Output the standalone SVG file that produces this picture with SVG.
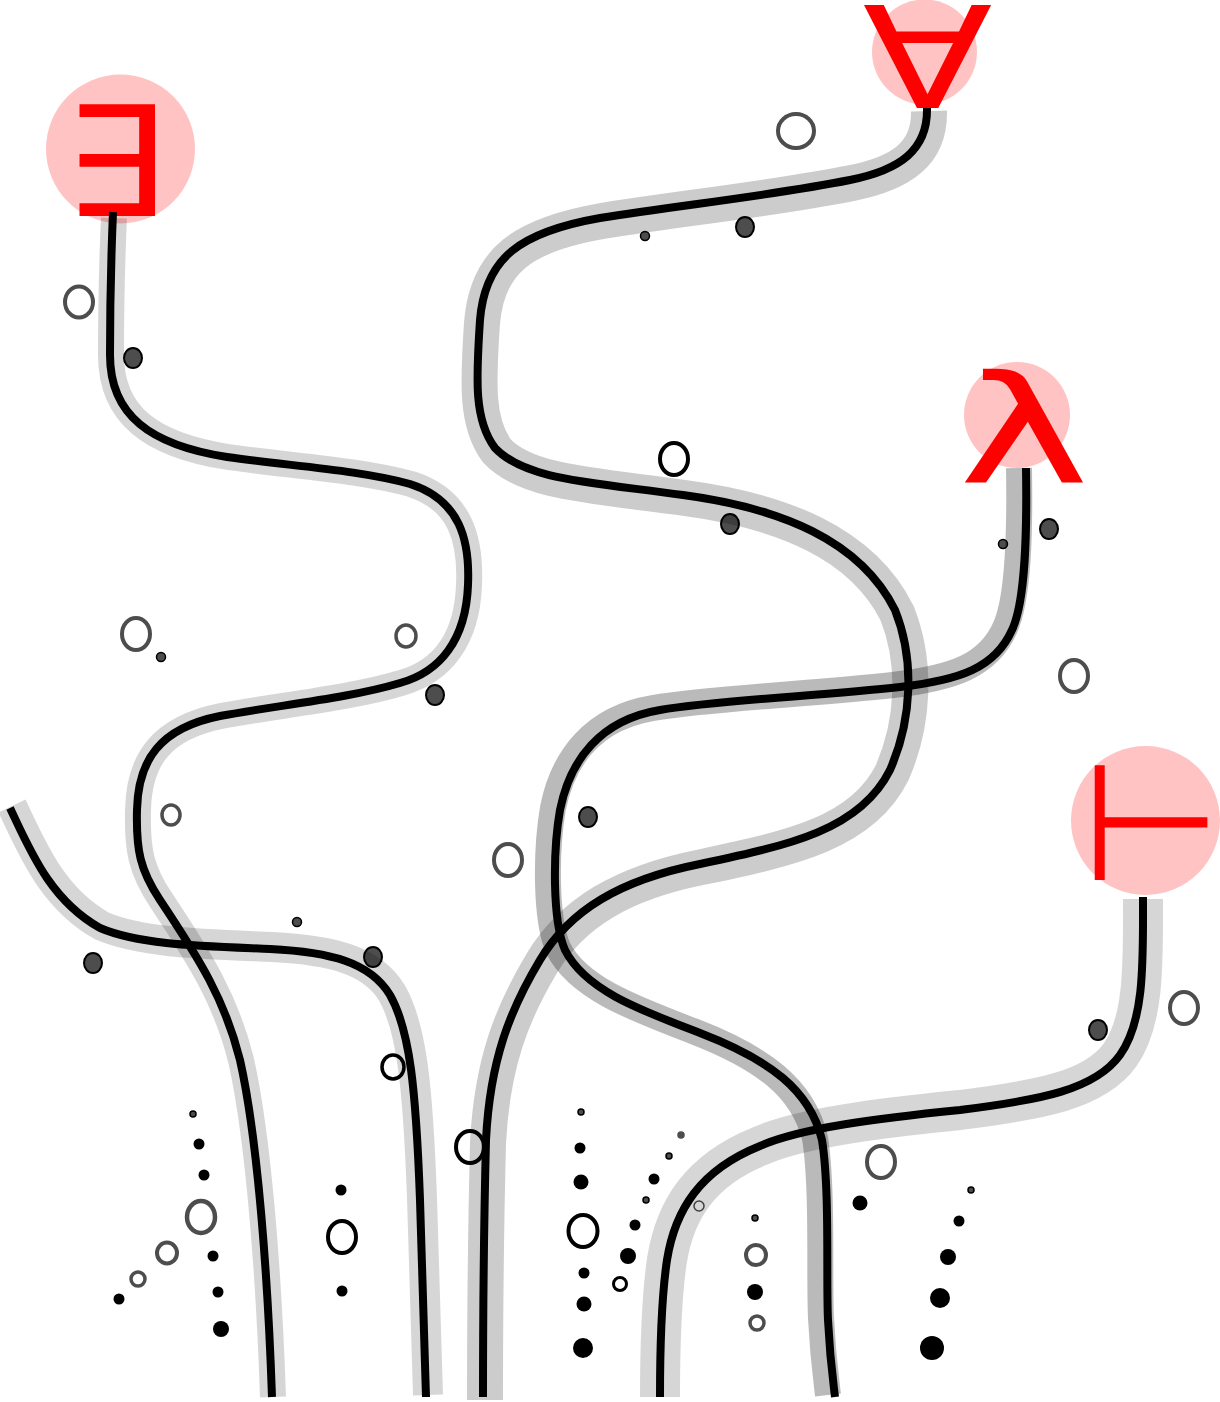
<svg xmlns="http://www.w3.org/2000/svg" width="1220" height="1402" viewBox="0 0 1220 1402">
<style>
.hg{fill:none;stroke:#4d4d4d;stroke-width:4}
.hb{fill:none;stroke:#000;stroke-width:4}
.fd{fill:#4d4d4d;stroke:#000;stroke-width:2}
.fb{fill:#000}
.tn{fill:#4d4d4d;stroke:#000;stroke-width:1.5}
.sh{fill:none;stroke:#000;stroke-linecap:butt}
.ln{fill:none;stroke:#000;stroke-width:8;stroke-linecap:butt}
.halo{fill:#ffc3c3}
.sym{fill:#ff0000;font-family:"DejaVu Sans",sans-serif;text-anchor:middle}
</style>
<rect width="1220" height="1402" fill="#fff"/>
<g id="bubbles">
<ellipse class="hg" cx="79" cy="302" rx="14" ry="15.5"/>
<ellipse class="fd" cx="133" cy="358" rx="9" ry="10"/>
<ellipse class="hg" cx="136" cy="634" rx="14" ry="16"/>
<circle class="tn" cx="161" cy="657" r="4.5"/>
<ellipse class="hg" cx="406" cy="636" rx="10" ry="11" style="stroke-width:3.5"/>
<ellipse class="fd" cx="435" cy="695" rx="9" ry="10"/>
<ellipse class="hg" cx="796" cy="131" rx="18" ry="17"/>
<circle class="tn" cx="645" cy="236" r="4.5"/>
<ellipse class="fd" cx="745" cy="227" rx="9" ry="10"/>
<ellipse class="hb" cx="674" cy="459" rx="14" ry="16"/>
<ellipse class="fd" cx="730" cy="524" rx="9" ry="10"/>
<circle class="tn" cx="1003" cy="544" r="4.5"/>
<ellipse class="fd" cx="1049" cy="529" rx="9" ry="10"/>
<ellipse class="hg" cx="1074" cy="676" rx="14" ry="16"/>
<ellipse class="hg" cx="171" cy="815" rx="9" ry="10" style="stroke-width:3.5"/>
<circle class="tn" cx="297" cy="922" r="4.5"/>
<ellipse class="fd" cx="93" cy="963" rx="9" ry="10"/>
<ellipse class="fd" cx="373" cy="957" rx="9" ry="10"/>
<ellipse class="hb" cx="393" cy="1067" rx="11" ry="12" style="stroke-width:3.5"/>
<ellipse class="fd" cx="588" cy="817" rx="9" ry="10"/>
<ellipse class="hg" cx="508" cy="860" rx="14" ry="16"/>
<ellipse class="hb" cx="470" cy="1147" rx="14" ry="16"/>
<ellipse class="fd" cx="1098" cy="1030" rx="9" ry="10"/>
<ellipse class="hg" cx="1184" cy="1008" rx="14" ry="16"/>
<ellipse class="hg" cx="881" cy="1162" rx="14" ry="16"/>
<circle class="tn" cx="193" cy="1114" r="3"/>
<circle class="fb" cx="199" cy="1144" r="5.5"/>
<circle class="fb" cx="204" cy="1175" r="5.5"/>
<ellipse class="hg" cx="201" cy="1217" rx="14" ry="16" style="stroke-width:4.5"/>
<ellipse class="hg" cx="167" cy="1253" rx="10" ry="10.5"/>
<circle class="hg" cx="138" cy="1279" r="7" style="stroke-width:3.5"/>
<circle class="fb" cx="119" cy="1299" r="5.5"/>
<circle class="fb" cx="213" cy="1256" r="5.5"/>
<circle class="fb" cx="218" cy="1292" r="5.5"/>
<circle class="fb" cx="221" cy="1329" r="8"/>
<circle class="fb" cx="341" cy="1190" r="5.5"/>
<ellipse class="hb" cx="342" cy="1237" rx="14" ry="16"/>
<circle class="fb" cx="342" cy="1291" r="5.5"/>
<circle class="tn" cx="581" cy="1112" r="3"/>
<circle class="fb" cx="580" cy="1148" r="5.5"/>
<circle class="fb" cx="581" cy="1182" r="7.5"/>
<ellipse class="hb" cx="583" cy="1231" rx="14.5" ry="16"/>
<circle class="fb" cx="584" cy="1273" r="5.5"/>
<circle class="fb" cx="584" cy="1304" r="7.5"/>
<circle class="fb" cx="583" cy="1348" r="10"/>
<circle cx="681" cy="1135" r="3" fill="#4d4d4d" stroke="#4d4d4d" stroke-width="1.5"/>
<circle class="tn" cx="669" cy="1156" r="3"/>
<circle class="fb" cx="654" cy="1179" r="5.5"/>
<circle class="tn" cx="646" cy="1200" r="3"/>
<circle class="hg" cx="699" cy="1206" r="5" style="stroke-width:1.5"/>
<circle class="fb" cx="635" cy="1225" r="5.5"/>
<circle class="fb" cx="628" cy="1256" r="8"/>
<circle class="hb" cx="620" cy="1284" r="6.5" style="stroke-width:3"/>
<circle class="tn" cx="755" cy="1218" r="3"/>
<circle class="hg" cx="756" cy="1255" r="10"/>
<circle class="fb" cx="755" cy="1292" r="8"/>
<circle class="hg" cx="757" cy="1323" r="7" style="stroke-width:3.5"/>
<circle class="fb" cx="860" cy="1203" r="7.5"/>
<circle class="tn" cx="971" cy="1190" r="3"/>
<circle class="fb" cx="959" cy="1221" r="5.5"/>
<circle class="fb" cx="948" cy="1257" r="8"/>
<circle class="fb" cx="940" cy="1298" r="10"/>
<circle class="fb" cx="932" cy="1348" r="12"/>
</g>
<g id="node-exists">
<circle class="halo" cx="120.5" cy="149" r="74.5"/>
<text class="sym" transform="translate(114.5,216) scale(1.05,1)" font-size="153">∃</text>
</g>
<g id="node-forall">
<circle class="halo" cx="924.5" cy="52" r="52.5"/>
<text class="sym" transform="translate(927.5,108) scale(1.35,1)" font-size="141">∀</text>
</g>
<g id="node-lambda">
<circle class="halo" cx="1017" cy="415" r="53"/>
<text class="sym" transform="translate(1024,482) scale(1.48,1)" font-size="150">λ</text>
</g>
<g id="node-turnstile">
<circle class="halo" cx="1145.5" cy="820.5" r="74.5"/>
<text class="sym" transform="translate(1151,880) scale(0.98,1)" font-size="164">⊢</text>
</g>
<g id="connectors">
<g id="c-exists">
<path class="sh" stroke-opacity="0.16" stroke-width="26" d="M113,218 C111,260 110,320 110,355 C110,415 150,445 227,457 C290,466 360,470 410,484 C460,500 470,540 468,585 C466,640 440,672 400,683 C350,698 280,705 220,716 C160,728 138,760 137,810 C136,850 140,870 160,900 C200,960 225,1000 240,1060 C258,1140 268,1280 272,1397" transform="translate(1,0)"/>
<path class="ln" d="M113,212 C111,260 110,320 110,355 C110,415 150,445 227,457 C290,466 360,470 410,484 C460,500 470,540 468,585 C466,640 440,672 400,683 C350,698 280,705 220,716 C160,728 138,760 137,810 C136,850 140,870 160,900 C200,960 225,1000 240,1060 C258,1140 268,1280 272,1397"/>
</g>
<g id="c-forall">
<path class="sh" stroke-opacity="0.2" stroke-width="36" d="M927,108 C928,150 900,170 850,180 C770,196 680,205 600,218 C520,232 485,258 480,320 C476,380 474,420 495,448 C525,480 590,482 683,495 C780,508 860,540 895,610 C915,660 912,720 890,770 C860,830 790,845 700,864 C620,880 570,910 540,960 C510,1010 490,1060 486,1140 C484,1220 483,1320 483,1397" transform="translate(2,3)"/>
<path class="ln" d="M927,108 C928,150 900,170 850,180 C770,196 680,205 600,218 C520,232 485,258 480,320 C476,380 474,420 495,448 C525,480 590,482 683,495 C780,508 860,540 895,610 C915,660 912,720 890,770 C860,830 790,845 700,864 C620,880 570,910 540,960 C510,1010 490,1060 486,1140 C484,1220 483,1320 483,1397"/>
</g>
<g id="c-lambda">
<path class="sh" stroke-opacity="0.27" stroke-width="26" d="M1026,470 C1027,530 1026,600 1012,630 C995,668 960,680 900,687 C820,696 720,700 660,710 C600,720 570,760 560,810 C553,850 552,920 565,950 C585,990 640,1010 700,1033 C770,1060 810,1090 822,1140 C830,1190 826,1280 828,1320 C830,1360 833,1380 835,1397" transform="translate(-7,-2)"/>
<path class="ln" d="M1026,468 C1027,530 1026,600 1012,630 C995,668 960,680 900,687 C820,696 720,700 660,710 C600,720 570,760 560,810 C553,850 552,920 565,950 C585,990 640,1010 700,1033 C770,1060 810,1090 822,1140 C830,1190 826,1280 828,1320 C830,1360 833,1380 835,1397"/>
</g>
<g id="c-turnstile">
<path class="sh" stroke-opacity="0.16" stroke-width="40" d="M1143,899 C1143,960 1145,1020 1120,1055 C1095,1090 1040,1100 960,1110 C880,1118 800,1128 760,1146 C700,1170 675,1210 667,1260 C661,1300 660,1350 660,1397"/>
<path class="ln" d="M1143,897 C1143,960 1145,1020 1120,1055 C1095,1090 1040,1100 960,1110 C880,1118 800,1128 760,1146 C700,1170 675,1210 667,1260 C661,1300 660,1350 660,1397"/>
</g>
<g id="c-free">
<path class="sh" stroke-opacity="0.16" stroke-width="30" d="M10,808 C30,850 50,900 100,928 C140,945 200,946 270,949 C330,952 370,962 390,995 C410,1030 416,1090 420,1200 C423,1290 425,1350 426,1397" transform="translate(2,-2)"/>
<path class="ln" d="M10,808 C30,850 50,900 100,928 C140,945 200,946 270,949 C330,952 370,962 390,995 C410,1030 416,1090 420,1200 C423,1290 425,1350 426,1397"/>
</g>
</g>
</svg>
